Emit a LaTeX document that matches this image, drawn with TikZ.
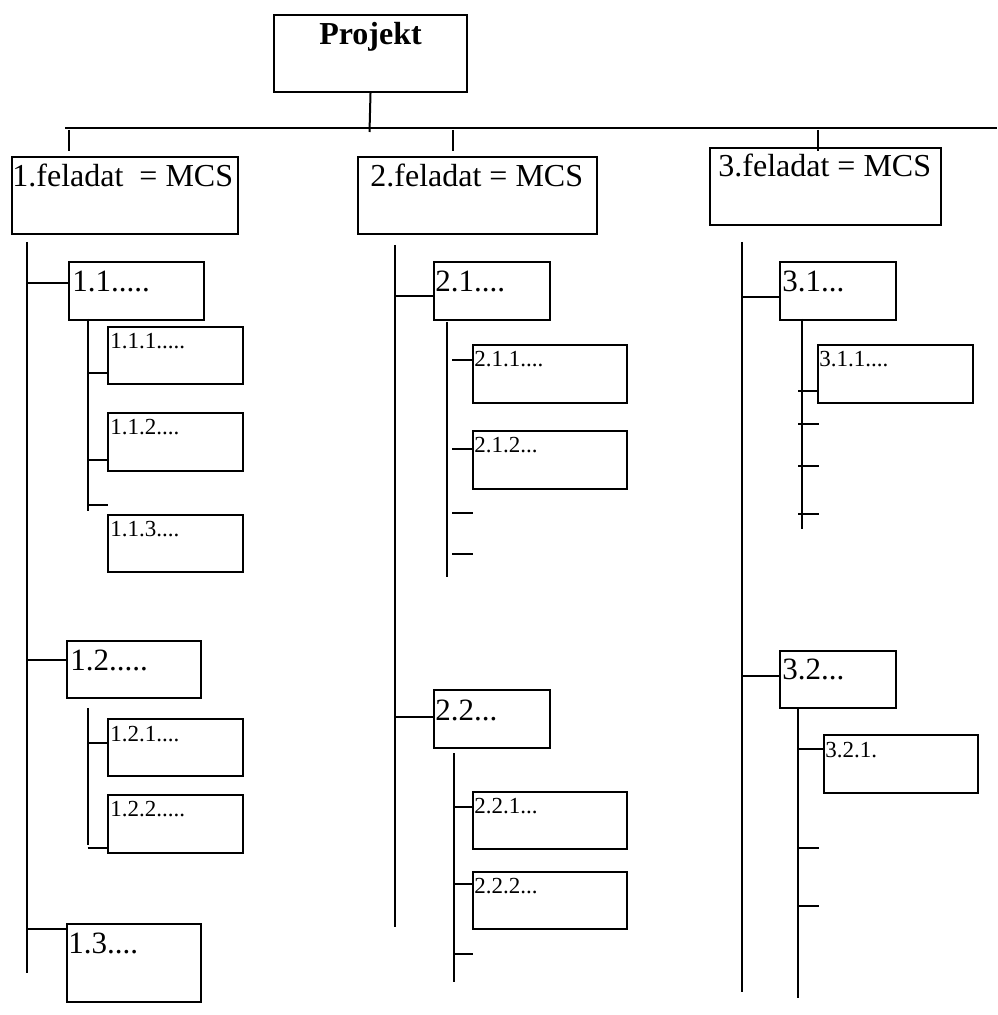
\documentclass[tikz,border=0pt]{standalone}
\usepackage{fontspec}
\setmainfont{Liberation Serif}
\begin{document}
\begin{tikzpicture}[x=0.5pt,y=-0.5pt,
  bx/.style={draw, line width=1pt, inner sep=0pt, anchor=north west},
  la/.style={anchor=base west, inner sep=0pt, font=\fontsize{16}{19}\selectfont},
  lb/.style={anchor=base west, inner sep=0pt, font=\fontsize{15.5}{18}\selectfont},
  lc/.style={anchor=base west, inner sep=0pt, font=\fontsize{11.5}{14}\selectfont},
  ln/.style={line width=1pt}]
\useasboundingbox (0,0) rectangle (997,1015);

% ---------- boxes ----------
\node[bx, minimum width=96.5pt, minimum height=38.5pt] (P) at (273,14) {};
\node[anchor=base, inner sep=0pt, font=\fontsize{16}{19}\selectfont\bfseries] (tP) at ([yshift=-15.5pt]P.north) {Projekt};

\node[bx, minimum width=113pt, minimum height=38.5pt] (B1) at (11,156) {};
\node[la] (t1) at ([shift={(0.5pt,-15.5pt)}]B1.north west) {1.feladat~~= MCS};
\node[bx, minimum width=119.5pt, minimum height=38.5pt] (B2) at (357,156) {};
\node[la] (t2) at ([shift={(6.5pt,-15.5pt)}]B2.north west) {2.feladat = MCS};
\node[bx, minimum width=115.5pt, minimum height=38.5pt] (B3) at (709,147) {};
\node[la] (t3) at ([shift={(4.5pt,-15pt)}]B3.north west) {3.feladat = MCS};

% column 1
\node[bx, minimum width=67.5pt, minimum height=29pt] (B11) at (68,261) {};
\node[lb] (t11) at ([shift={(2pt,-15.5pt)}]B11.north west) {1.1.....};
\node[bx, minimum width=67.5pt, minimum height=28.5pt] (B111) at (107,326) {};
\node[lc] (t111) at ([shift={(1.5pt,-11.5pt)}]B111.north west) {1.1.1.....};
\node[bx, minimum width=67.5pt, minimum height=29pt] (B112) at (107,412) {};
\node[lc] (t112) at ([shift={(1.5pt,-11pt)}]B112.north west) {1.1.2....};
\node[bx, minimum width=67.5pt, minimum height=28.5pt] (B113) at (107,514) {};
\node[lc] (t113) at ([shift={(1.5pt,-11pt)}]B113.north west) {1.1.3....};
\node[bx, minimum width=67pt, minimum height=28.5pt] (B12) at (66,640) {};
\node[lb] (t12) at ([shift={(2pt,-15pt)}]B12.north west) {1.2.....};
\node[bx, minimum width=67.5pt, minimum height=28.5pt] (B121) at (107,718) {};
\node[lc] (t121) at ([shift={(1.5pt,-11.5pt)}]B121.north west) {1.2.1....};
\node[bx, minimum width=67.5pt, minimum height=29pt] (B122) at (107,794) {};
\node[lc] (t122) at ([shift={(1.5pt,-11pt)}]B122.north west) {1.2.2.....};
\node[bx, minimum width=67pt, minimum height=39pt] (B13) at (66,923) {};
\node[lb] (t13) at ([shift={(1pt,-15pt)}]B13.north west) {1.3....};

% column 2
\node[bx, minimum width=58pt, minimum height=29pt] (B21) at (433,261) {};
\node[lb] (t21) at ([shift={(1pt,-15.5pt)}]B21.north west) {2.1....};
\node[bx, minimum width=77pt, minimum height=29pt] (B211) at (472,344) {};
\node[lc] (t211) at ([shift={(1pt,-11.5pt)}]B211.north west) {2.1.1....};
\node[bx, minimum width=77pt, minimum height=29pt] (B212) at (472,430) {};
\node[lc] (t212) at ([shift={(1pt,-11pt)}]B212.north west) {2.1.2...};
\node[bx, minimum width=58pt, minimum height=29pt] (B22) at (433,689) {};
\node[lb] (t22) at ([shift={(1pt,-15.5pt)}]B22.north west) {2.2...};
\node[bx, minimum width=77pt, minimum height=28.5pt] (B221) at (472,791) {};
\node[lc] (t221) at ([shift={(1pt,-11pt)}]B221.north west) {2.2.1...};
\node[bx, minimum width=77pt, minimum height=28.5pt] (B222) at (472,871) {};
\node[lc] (t222) at ([shift={(1pt,-11pt)}]B222.north west) {2.2.2...};

% column 3
\node[bx, minimum width=58pt, minimum height=29pt] (B31) at (779,261) {};
\node[lb] (t31) at ([shift={(1.5pt,-15.5pt)}]B31.north west) {3.1...};
\node[bx, minimum width=77.5pt, minimum height=29pt] (B311) at (817,344) {};
\node[lc] (t311) at ([shift={(1pt,-11.5pt)}]B311.north west) {3.1.1....};
\node[bx, minimum width=58pt, minimum height=28.5pt] (B32) at (779,650) {};
\node[lb] (t32) at ([shift={(1.5pt,-14.5pt)}]B32.north west) {3.2...};
\node[bx, minimum width=77pt, minimum height=29pt] (B321) at (823,734) {};
\node[lc] (t321) at ([shift={(1pt,-11.5pt)}]B321.north west) {3.2.1.};

% ---------- top bar ----------
\coordinate (pd) at (369.5,132);
\coordinate (hl) at (65,128);
\coordinate (hr) at (997,128);
\draw[ln] (P.south) -- (pd);
\draw[ln] (hl) -- (hr);
\coordinate (k1a) at (69,130);  \coordinate (k1b) at (69,151);
\coordinate (k2a) at (453,130); \coordinate (k2b) at (453,151);
\coordinate (k3a) at (818,130); \coordinate (k3b) at (818,151);
\draw[ln] (k1a) -- (k1b);
\draw[ln] (k2a) -- (k2b);
\draw[ln] (k3a) -- (k3b);

% ---------- column 1 ----------
\coordinate (v1a) at (27,242); \coordinate (v1b) at (27,973);
\draw[ln] (v1a) -- (v1b);
\draw[ln] (27,283) -- (B11.west |- 0,283);
\coordinate (v11a) at (88,319); \coordinate (v11b) at (88,511);
\draw[ln] (v11a) -- (v11b);
\draw[ln] (88,373) -- (B111.west |- 0,373);
\draw[ln] (88,460) -- (B112.west |- 0,460);
\coordinate (k113) at (108,505);
\draw[ln] (88,505) -- (k113);
\draw[ln] (27,660) -- (B12.west |- 0,660);
\coordinate (v12a) at (88,708); \coordinate (v12b) at (88,845);
\draw[ln] (v12a) -- (v12b);
\draw[ln] (88,743) -- (B121.west |- 0,743);
\draw[ln] (87.5,848) -- (B122.west |- 0,848);
\draw[ln] (27,929) -- (B13.west |- 0,929);

% ---------- column 2 ----------
\coordinate (v2a) at (395,245); \coordinate (v2b) at (395,927);
\draw[ln] (v2a) -- (v2b);
\draw[ln] (395,296) -- (B21.west |- 0,296);
\coordinate (v21a) at (447,322); \coordinate (v21b) at (447,577);
\draw[ln] (v21a) -- (v21b);
\draw[ln] (452,360) -- (B211.west |- 0,360);
\draw[ln] (452,449) -- (B212.west |- 0,449);
\coordinate (k213) at (473,513); \coordinate (k214) at (473,554);
\draw[ln] (452,513) -- (k213);
\draw[ln] (452,554) -- (k214);
\draw[ln] (395,717) -- (B22.west |- 0,717);
\coordinate (v22a) at (454,753); \coordinate (v22b) at (454,982);
\draw[ln] (v22a) -- (v22b);
\draw[ln] (454,807) -- (B221.west |- 0,807);
\draw[ln] (454,884) -- (B222.west |- 0,884);
\coordinate (k223) at (473,954);
\draw[ln] (454,954) -- (k223);

% ---------- column 3 ----------
\coordinate (v3a) at (742,242); \coordinate (v3b) at (742,992);
\draw[ln] (v3a) -- (v3b);
\draw[ln] (742,297) -- (B31.west |- 0,297);
\coordinate (v31a) at (802,319); \coordinate (v31b) at (802,529);
\draw[ln] (v31a) -- (v31b);
\draw[ln] (798,391) -- (B311.west |- 0,391);
\coordinate (k312) at (819,424); \coordinate (k313) at (819,466); \coordinate (k314) at (819,514);
\draw[ln] (798,424) -- (k312);
\draw[ln] (798,466) -- (k313);
\draw[ln] (798,514) -- (k314);
\draw[ln] (742,676) -- (B32.west |- 0,676);
\coordinate (v32a) at (798,707); \coordinate (v32b) at (798,998);
\draw[ln] (v32a) -- (v32b);
\draw[ln] (798,749) -- (B321.west |- 0,749);
\coordinate (k322) at (819,848); \coordinate (k323) at (819,906);
\draw[ln] (798,848) -- (k322);
\draw[ln] (798,906) -- (k323);
\end{tikzpicture}
\end{document}
